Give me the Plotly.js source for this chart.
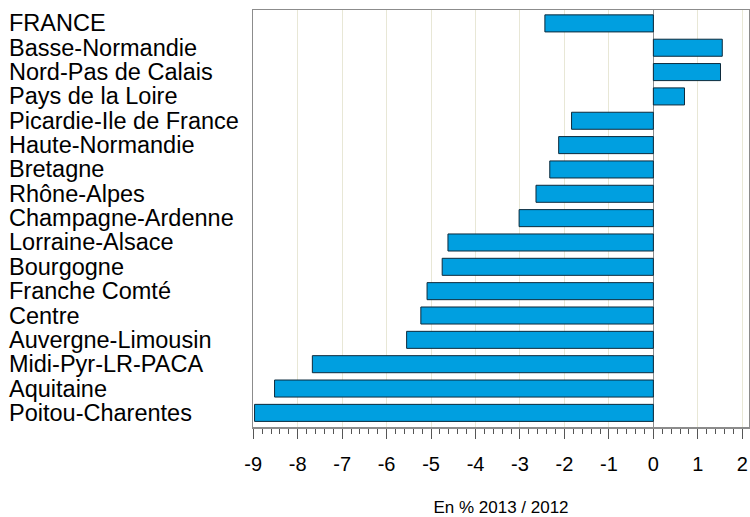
<!DOCTYPE html>
<html>
<head>
<meta charset="utf-8">
<script src="https://cdn.plot.ly/plotly-3.0.1.min.js"></script>
<style>html,body{margin:0;padding:0;background:#fff;}#chart{width:750px;height:517px;}</style>
</head>
<body>
<div id="chart"></div>
<script>
const regions = ["FRANCE","Basse-Normandie","Nord-Pas de Calais","Pays de la Loire","Picardie-Ile de France","Haute-Normandie","Bretagne","Rhône-Alpes","Champagne-Ardenne","Lorraine-Alsace","Bourgogne","Franche Comté","Centre","Auvergne-Limousin","Midi-Pyr-LR-PACA","Aquitaine","Poitou-Charentes"];
const values = [-2.44, 1.55, 1.51, 0.70, -1.84, -2.13, -2.33, -2.64, -3.02, -4.62, -4.75, -5.09, -5.23, -5.55, -7.67, -8.52, -8.97];
const tickVals = [-9,-8,-7,-6,-5,-4,-3,-2,-1,0,1,2];
const xTitle = "En % 2013 / 2012";

const FONT = "Liberation Sans, Arial, sans-serif";

const trace = {
  type: "bar",
  orientation: "h",
  x: values,
  y: regions,
  width: 0.7,
  marker: {color: "#009fe0", line: {color: "#0c2a3c", width: 1}},
  hoverinfo: "x+y"
};

const annotations = regions.map(r => ({
  xref: "paper", yref: "y", x: -0.496, y: r,
  xanchor: "left", yanchor: "middle",
  text: r, showarrow: false,
  font: {family: FONT, size: 23.5, color: "#000"}
}));

const layout = {
  width: 750, height: 517,
  margin: {l: 253, r: 1, t: 10, b: 90},
  paper_bgcolor: "#fff", plot_bgcolor: "#fff",
  showlegend: false,
  bargap: 0.3,
  xaxis: {
    range: [-9.005, 2.151],
    tickvals: tickVals,
    ticktext: tickVals.map(String),
    showgrid: true, gridcolor: "#e8e7d6", gridwidth: 1,
    zeroline: true, zerolinecolor: "#8c8c8c", zerolinewidth: 1.5,
    showline: true, linecolor: "#8c8c8c", linewidth: 1.5, mirror: true,
    ticks: "outside", ticklen: 10, tickcolor: "#555", tickwidth: 1,
    ticklabelstandoff: 8,
    minor: {dtick: 0.2, ticks: "outside", ticklen: 5, tickcolor: "#555", showgrid: false},
    tickfont: {family: FONT, size: 20, color: "#000"},
    title: {text: xTitle, font: {family: FONT, size: 17, color: "#000"}, standoff: 33}
  },
  yaxis: {
    type: "category",
    categoryorder: "array", categoryarray: regions,
    range: [16.58, -0.55],
    showticklabels: false, ticks: "",
    showgrid: false, zeroline: false,
    showline: true, linecolor: "#8c8c8c", linewidth: 1.5, mirror: true
  },
  annotations: annotations,
  font: {family: FONT}
};

Plotly.newPlot("chart", [trace], layout, {displayModeBar: false, staticPlot: true});
</script>
</body>
</html>
